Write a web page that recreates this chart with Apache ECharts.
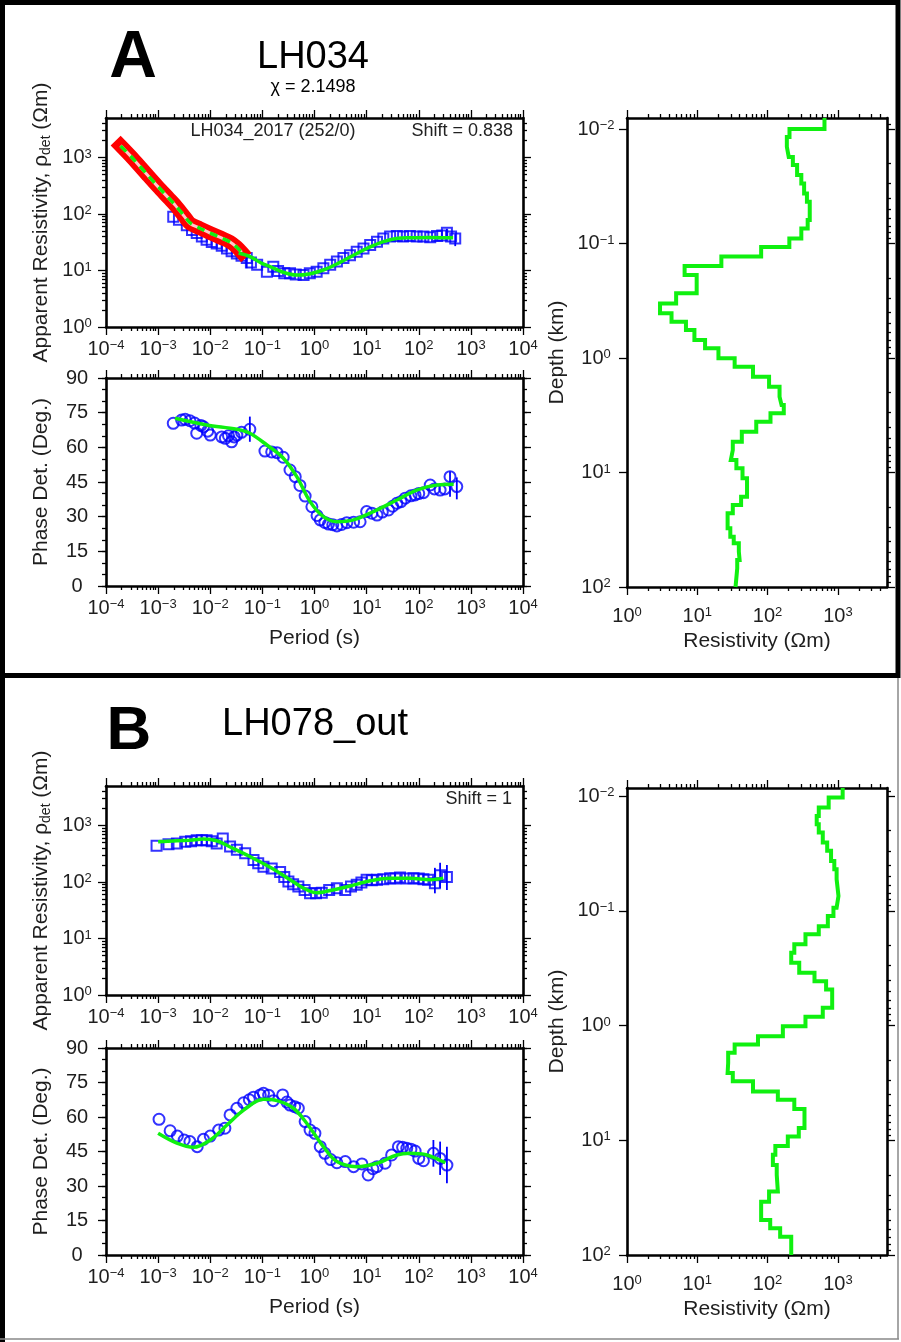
<!DOCTYPE html>
<html><head><meta charset="utf-8">
<script src="https://cdn.jsdelivr.net/npm/echarts@6/dist/echarts.min.js"></script>
<style>html,body{margin:0;padding:0;background:#fff}#c{width:901px;height:1342px}</style>
</head><body><div id="c"></div>
<script>
// ================= DATA =================
// tick labels
const periodTicks = [1e-4, 1e-3, 1e-2, 1e-1, 1, 10, 100, 1000, 10000];
const rhoTicks = [1, 10, 100, 1000];
const phaseTicks = [0, 15, 30, 45, 60, 75, 90];
const phaseMinorTicks = [0,5,10,15,20,25,30,35,40,45,50,55,60,65,70,75,80,85,90];
const depthTicks = [0.01, 0.1, 1, 10, 100];
const resTicks = [1, 10, 100, 1000];

// ---- Station A : LH034 ----
const rhoA_T = [0.00195,0.00251,0.00355,0.00447,0.0055,0.0069,0.0085,0.0107,0.0133,0.0166,0.0209,0.0257,0.0324,0.0398,0.0501,0.0603,0.0794,0.122,0.162,0.2,0.263,0.339,0.437,0.617,0.813,1.1,1.48,2.0,2.69,3.59,4.79,6.46,8.71,11.7,15.8,20.9,28.2,38.0,50.1,67.6,91.2,123,166,224,282,347,417,501];
const rhoA_obs = [89,79,63,52,46,40,35,32,30,27.5,24.5,22,20,18.2,16.6,13.8,12.6,9.5,11.7,9.8,8.9,8.9,8.5,8.3,8.9,9.5,11,12.6,14.5,16.6,18.6,21.4,24.5,28.2,32.4,37,40,40.7,39.8,40.7,39.8,39.8,38.9,40.7,41.7,46.8,39.8,37];
const rhoA_err = [[0.0501, 11, 17.6], [347, 38, 55], [501, 27, 44]];
const rhoA_mT = [0.035,0.058,0.1,0.141,0.25,0.457,0.79,1.48,3.16,6.46,12.6,20.9,39.8,68.4,158,457];
const rhoA_mod = [20.4,17.6,13.2,11.7,9.3,8.3,8.7,10.2,14.1,20,26.9,32.4,37.2,38,38.5,38];
const rhoA2017_T = [1.9e-4,3.2e-4,6.3e-4,1e-3,1.6e-3,2.1e-3,3.2e-3,4.1e-3,6.3e-3,0.01,0.016,0.024,0.032,0.04];
const rhoA2017_obs = [1620,980,485,302,190,145,90,68,56,46,38,32,26,21];
const rhoA2017_mod = [1600,980,490,305,192,146,92,70,56,46,38,32,26,21];

const phA_T = [0.00195,0.00282,0.00331,0.00407,0.00501,0.0055,0.0066,0.00741,0.00891,0.01,0.0166,0.0195,0.0224,0.0257,0.0288,0.0324,0.0398,0.0575,0.112,0.151,0.191,0.251,0.339,0.427,0.525,0.661,0.891,1.12,1.29,1.58,1.86,2.24,2.69,3.31,4.17,5.62,7.5,10,12.6,15.8,20,26.3,31.6,38,45.7,55,70.8,85.1,100,123,166,200,257,316,398,537];
const phA_obs = [70.4,71.8,72.1,71.5,70.5,66.1,69.5,68.9,67.0,65.3,64.5,63.9,65.0,62.4,64.5,65.3,66.5,67.8,58.4,58.0,57.7,55.7,50.2,47.3,43.5,38.9,34.3,30.5,28.6,27.5,26.8,26.5,26.0,26.6,27.4,27.6,27.8,32.2,31.5,30.7,32.0,32.9,34.5,35.8,36.5,38.0,39.0,39.4,40.0,40.4,43.7,42.0,41.5,42.0,47.3,43.0];
const phA_err = [[0.0575, 62.4, 73.3], [398, 38.6, 49.5], [537, 37.5, 47]];
const phA_mT = [0.00211,0.00851,0.0324,0.0575,0.122,0.253,0.457,0.822,1.48,2.69,5.62,13.5,38,91.2,224,468];
const phA_mod = [72.6,69.7,67.8,66.1,61.0,55.3,47.3,36.5,30.0,27.8,28.6,32.2,37.2,41.5,43.7,44.0];

const modA_top = [0.008,0.01,0.0117,0.0143,0.0175,0.0206,0.0252,0.0298,0.0365,0.0432,0.0624,0.0737,0.0901,0.107,0.130,0.157,0.188,0.272,0.333,0.407,0.482,0.569,0.697,0.822,1.006,1.19,1.46,1.78,2.18,2.57,3.04,3.60,4.41,5.39,6.36,7.78,9.19,11.2,16.3,19.2,22.7,30.7,36.4,41.5,49.2,58.1,68.7];
const modA_rho = [645,205,188,200,229,263,302,331,363,398,372,302,204,81,22,6.6,9.8,5.0,2.95,4.3,6.9,9.1,12.9,20,34,62,105,148,158,170,110,69,43,32,30,36,44,51,42,32,27,29.5,33,39,40,37,35];

// ---- Station B : LH078_out ----
const rhoB_T = [0.000933,0.00158,0.00229,0.00331,0.00427,0.0055,0.00692,0.00851,0.0107,0.0133,0.0174,0.024,0.0324,0.0468,0.0676,0.0832,0.105,0.151,0.219,0.263,0.316,0.389,0.49,0.646,0.822,1.07,1.38,1.91,2.69,3.89,5.01,6.46,7.94,10,12.6,15.8,20.9,28.2,35.5,43.7,58.9,79.4,100,123,151,204,257,347];
const rhoB_obs = [437,468,479,513,525,550,550,550,525,479,589,427,372,324,245,214,186,174,151,123,102,91.2,83.2,72.4,63.1,63.1,64.6,72.4,77.6,72.4,83.2,89.1,97.7,110,107,110,112,117,115,120,115,117,115,112,110,95.5,132,123];
const rhoB_err = [[204, 63, 178], [257, 78, 219], [347, 72, 200]];
const rhoB_mT = [0.001,0.00407,0.00741,0.0133,0.024,0.0575,0.141,0.339,0.617,1.1,2.0,4.79,11.7,28.2,68.4,166,295];
const rhoB_mod = [513,550,575,537,417,282,182,110,77.6,64.6,70.8,85.1,105,117,117,110,117];

const phB_T = [0.00104,0.0017,0.00234,0.00316,0.00407,0.00562,0.00741,0.01,0.0145,0.0191,0.024,0.0324,0.0437,0.0562,0.0676,0.0912,0.105,0.132,0.162,0.245,0.295,0.339,0.417,0.49,0.661,0.822,1.02,1.29,1.58,2.04,2.69,3.89,5.62,8.13,10.7,13.2,15.8,22.6,30.2,40.7,49,58.9,70.8,85.1,100,123,191,257,347];
const phB_obs = [59.0,54.0,51.7,50.0,49.3,47.1,50.3,51.7,54.3,55.1,60.9,63.8,66.2,67.5,68.6,69.6,70.3,69.5,67.1,69.6,66.5,65.2,64.5,63.8,58.0,54.3,52.9,47.1,44.2,41.5,40.1,40.6,38.4,39.6,34.8,37.5,38.4,39.9,43.5,47.1,46.8,46.4,46.0,45.2,42.0,41.0,44.2,42.0,39.1];
const phB_err = [[191, 38.4, 50], [257, 34.8, 49.3], [347, 31.2, 47.1]];
const phB_mT = [0.001,0.00229,0.00479,0.01,0.0209,0.0437,0.105,0.191,0.394,0.708,1.48,2.69,6.46,15.8,38,68.4,143,324];
const phB_mod = [52.9,48.6,46.8,50.0,56.5,63.0,67.7,67.1,63.8,57.3,47.1,40.6,38.4,39.9,43.5,44.2,43.5,40.1];

const modB_top = [0.0085,0.0103,0.0126,0.0149,0.0176,0.0208,0.0254,0.0300,0.0367,0.0434,0.0531,0.0743,0.0938,0.111,0.136,0.160,0.196,0.232,0.283,0.347,0.410,0.485,0.700,0.839,1.014,1.24,1.465,1.73,2.12,2.59,3.06,3.75,4.43,5.34,7.82,9.26,11.2,13.4,16.4,20.0,28.0,34.3,49.5,58.5,69.2];
const modB_rho = [1170,740,535,500,535,610,705,800,890,960,1020,960,865,720,535,346,240,217,282,465,680,830,610,346,165,73,34,27.5,27,32,62,140,240,335,278,194,129,119,135,140,105,81,109,151,217];
const modBottom = 100;

// ================= BUILD =================
const FONT = "'Liberation Sans', Arial, Helvetica, sans-serif";
const TXT = '#1e1e1e';
const BLUE = '#0000ff', GREEN = '#10f010', RED = '#ff0000';

function logMinor(lo, hi){
  const out = [];
  for (let e = Math.floor(Math.log10(lo)); e <= Math.ceil(Math.log10(hi)); e++) {
    for (let m = 2; m <= 9; m++) {
      const v = +(m * Math.pow(10, e)).toPrecision(6);
      if (v > lo * 1.0001 && v < hi * 0.9999) out.push(v);
    }
  }
  return out;
}
function supLabel(v){
  const e = Math.round(Math.log10(v));
  return '{b|10}{s|' + (e < 0 ? '\u2212' + (-e) : String(e)) + '}';
}
const supRich = {
  b: {fontSize: 20, lineHeight: 20, fontFamily: FONT, color: TXT},
  s: {fontSize: 13, lineHeight: 13, verticalAlign: 'top', fontFamily: FONT, color: TXT}
};
const nameStyle = {fontSize: 21, fontFamily: FONT, color: TXT, lineHeight: 23,
  rich: {sub: {fontSize: 14, lineHeight: 12, verticalAlign: 'bottom', fontFamily: FONT, color: TXT}}};

const grids = [], xAxes = [], yAxes = [], series = [];

function mkAxis(spec, gridIndex, position, withLabels, minor){
  const isLog = spec.type === 'log';
  const o = {
    type: spec.type, gridIndex: gridIndex, position: position,
    min: spec.min, max: spec.max, inverse: !!spec.inverse,
    axisLine: {show: !minor, onZero: false, lineStyle: {color: '#000', width: 2.6}},
    axisTick: {show: minor ? !!spec.minor : true, inside: false, length: minor ? 4 : 8,
      lineStyle: {color: '#000', width: 1.3}, customValues: minor ? (spec.minor || []) : spec.major},
    axisLabel: {show: false},
    splitLine: {show: false}, splitArea: {show: false},
    axisPointer: {show: false}, silent: true
  };
  if (isLog) o.logBase = 10;
  if (withLabels) {
    o.axisLabel = {show: true, customValues: spec.major, margin: spec.margin,
      formatter: isLog ? supLabel : (v) => String(v),
      rich: supRich, fontSize: 20, fontFamily: FONT, color: TXT, lineHeight: 20};
    if (spec.align) o.axisLabel.align = spec.align;
    if (spec.name) {
      o.name = spec.name; o.nameLocation = 'middle'; o.nameGap = spec.nameGap;
      if (spec.nameRotate !== undefined) o.nameRotate = spec.nameRotate;
      o.nameTextStyle = nameStyle;
    }
  }
  return o;
}

function addPanel(rect, xs, ys, xMinorSides, yMinorSides){
  const g = grids.length;
  grids.push(Object.assign({}, rect));
  grids.push(Object.assign({}, rect));
  const xi = xAxes.length, yi = yAxes.length;
  xAxes.push(mkAxis(xs, g, 'bottom', true, false));
  xAxes.push(mkAxis(xs, g, 'top', false, false));
  xAxes.push(mkAxis(Object.assign({}, xs, {minor: xMinorSides.bottom ? xs.minor : null}), g + 1, 'bottom', false, true));
  xAxes.push(mkAxis(Object.assign({}, xs, {minor: xMinorSides.top ? xs.minor : null}), g + 1, 'top', false, true));
  yAxes.push(mkAxis(ys, g, 'left', true, false));
  yAxes.push(mkAxis(ys, g, 'right', false, false));
  yAxes.push(mkAxis(Object.assign({}, ys, {minor: yMinorSides.left ? ys.minor : null}), g + 1, 'left', false, true));
  yAxes.push(mkAxis(Object.assign({}, ys, {minor: yMinorSides.right ? ys.minor : null}), g + 1, 'right', false, true));
  return {xAxisIndex: xi, yAxisIndex: yi};
}

const zip = (a, b) => a.map((v, i) => [v, b[i]]);
function stairs(tops, rhos, bottom){
  const pts = [];
  for (let i = 0; i < tops.length; i++) {
    const bot = i + 1 < tops.length ? tops[i + 1] : bottom;
    pts.push([rhos[i], tops[i]], [rhos[i], bot]);
  }
  return pts;
}
function scatter(ax, data, symbol, size){
  return Object.assign({type: 'scatter', data: data, symbol: symbol, symbolSize: size, z: 3,
    itemStyle: {color: 'rgba(0,0,0,0)', borderColor: BLUE, borderWidth: 2}, silent: true, animation: false}, ax);
}
function errbars(ax, data){
  return Object.assign({type: 'custom', data: data, z: 3, silent: true, animation: false,
    encode: {x: 0, y: [1, 2]},
    renderItem: function(params, api){
      const p1 = api.coord([api.value(0), api.value(1)]);
      const p2 = api.coord([api.value(0), api.value(2)]);
      return {type: 'line', shape: {x1: p1[0], y1: p1[1], x2: p2[0], y2: p2[1]},
        style: {stroke: BLUE, lineWidth: 1.8}};
    }}, ax);
}
function curve(ax, data, opts){
  return Object.assign({type: 'line', data: data, showSymbol: false, symbol: 'none', smooth: 0.35,
    silent: true, animation: false, z: 5,
    lineStyle: {color: GREEN, width: 3.5}}, ax, opts || {});
}

const periodSpec = (margin, name) => ({type: 'log', min: 1e-4, max: 1e4, major: periodTicks,
  minor: logMinor(1e-4, 1e4), margin: margin, name: name, nameGap: 41});
const rhoSpec = {type: 'log', min: 1, max: 5000, major: rhoTicks, minor: logMinor(1, 5000),
  margin: 29, align: 'center', name: 'Apparent Resistivity, \u03c1{sub|det} (\u03a9m)', nameGap: 53, nameRotate: 90};
const phaseSpec = {type: 'value', min: 0, max: 90, major: phaseTicks, minor: phaseMinorTicks,
  margin: 29, align: 'center', name: 'Phase Det. (Deg.)', nameGap: 53, nameRotate: 90};
const resSpec = {type: 'log', min: 1, max: 5000, major: resTicks, minor: logMinor(1, 5000),
  margin: 19, name: 'Resistivity (\u03a9m)', nameGap: 43};
const depthSpec = (dmin) => ({type: 'log', min: dmin, max: 100, inverse: true, major: depthTicks,
  minor: logMinor(dmin, 100), margin: 31, align: 'center', name: 'Depth (km)', nameGap: 58, nameRotate: 90});

const allSides = {bottom: true, top: true, left: true, right: true};
const depthSides = {left: false, right: true};

// ---- panels A ----
const pRhoA = addPanel({left: 106, top: 118, width: 417, height: 209}, periodSpec(12, ''), rhoSpec, allSides, allSides);
const pPhA = addPanel({left: 106, top: 378, width: 417, height: 208}, periodSpec(12, 'Period (s)'), phaseSpec, allSides, allSides);
const pModA = addPanel({left: 627, top: 118, width: 260, height: 469}, resSpec, depthSpec(0.008), allSides, depthSides);
// ---- panels B ----
const pRhoB = addPanel({left: 106, top: 786, width: 417, height: 209}, periodSpec(12, ''), rhoSpec, allSides, allSides);
const pPhB = addPanel({left: 106, top: 1048, width: 417, height: 207}, periodSpec(12, 'Period (s)'), phaseSpec, allSides, allSides);
const pModB = addPanel({left: 627, top: 788, width: 260, height: 467}, resSpec, depthSpec(0.0085), allSides, depthSides);

// series A
series.push(scatter(pRhoA, zip(rhoA_T, rhoA_obs), 'rect', 10));
series.push(errbars(pRhoA, rhoA_err));
series.push(curve(pRhoA, zip(rhoA2017_T, rhoA2017_obs), {z: 6, smooth: 0.3, lineStyle: {color: RED, width: 14, cap: 'square', join: 'round'}}));
series.push(curve(pRhoA, zip(rhoA2017_T, rhoA2017_obs), {z: 7, smooth: 0.3, lineStyle: {color: '#ffc8c8', width: 3, join: 'round'}}));
series.push(curve(pRhoA, zip(rhoA2017_T, rhoA2017_mod), {z: 8, smooth: 0.3, lineStyle: {color: GREEN, width: 3.5, type: [8, 6]}}));
series.push(curve(pRhoA, zip(rhoA_mT, rhoA_mod), {z: 8}));

series.push(scatter(pPhA, zip(phA_T, phA_obs), 'circle', 11));
series.push(errbars(pPhA, phA_err));
series.push(curve(pPhA, zip(phA_mT, phA_mod)));

series.push(curve(pModA, stairs(modA_top, modA_rho, modBottom), {smooth: false, lineStyle: {color: GREEN, width: 4, join: 'miter'}}));

// series B
series.push(scatter(pRhoB, zip(rhoB_T, rhoB_obs), 'rect', 10));
series.push(errbars(pRhoB, rhoB_err));
series.push(curve(pRhoB, zip(rhoB_mT, rhoB_mod)));

series.push(scatter(pPhB, zip(phB_T, phB_obs), 'circle', 11));
series.push(errbars(pPhB, phB_err));
series.push(curve(pPhB, zip(phB_mT, phB_mod)));

series.push(curve(pModB, stairs(modB_top, modB_rho, modBottom), {smooth: false, lineStyle: {color: GREEN, width: 4, join: 'miter'}}));

function txt(x, y, text, font, align, color){
  return {type: 'text', x: x, y: y, silent: true, z: 20,
    style: {text: text, font: font, fill: color || TXT, align: align || 'center', verticalAlign: 'middle'}};
}
const graphics = [
  {type: 'rect', shape: {x: 2.5, y: 2.5, width: 895.5, height: 673}, style: {fill: 'none', stroke: '#000', lineWidth: 5}, silent: true, z: 30},
  {type: 'line', shape: {x1: 2.5, y1: 676, x2: 2.5, y2: 1342}, style: {stroke: '#000', lineWidth: 5}, silent: true, z: 30},
  {type: 'line', shape: {x1: 898, y1: 678, x2: 898, y2: 1339}, style: {stroke: '#888', lineWidth: 1.5}, silent: true, z: 30},
  {type: 'line', shape: {x1: 0, y1: 1339, x2: 899, y2: 1339}, style: {stroke: '#888', lineWidth: 1.5}, silent: true, z: 30},
  txt(133, 59, 'A', 'bold 66px ' + FONT, 'center', '#000'),
  txt(313, 58, 'LH034', '38px ' + FONT, 'center', '#000'),
  txt(313, 87, '\u03c7 = 2.1498', '18px ' + FONT, 'center', '#000'),
  txt(273, 131, 'LH034_2017 (252/0)', '18px ' + FONT, 'center', '#222'),
  txt(513, 131, 'Shift = 0.838', '18px ' + FONT, 'right', '#222'),
  txt(129, 732, 'B', 'bold 62px ' + FONT, 'center', '#000'),
  txt(315, 725, 'LH078_out', '38px ' + FONT, 'center', '#000'),
  txt(512, 799, 'Shift = 1', '18px ' + FONT, 'right', '#222')
];

const chart = echarts.init(document.getElementById('c'), null, {renderer: 'canvas'});
chart.setOption({
  animation: false,
  backgroundColor: '#fff',
  grid: grids,
  xAxis: xAxes,
  yAxis: yAxes,
  series: series,
  graphic: {elements: graphics}
});
</script>
</body></html>
